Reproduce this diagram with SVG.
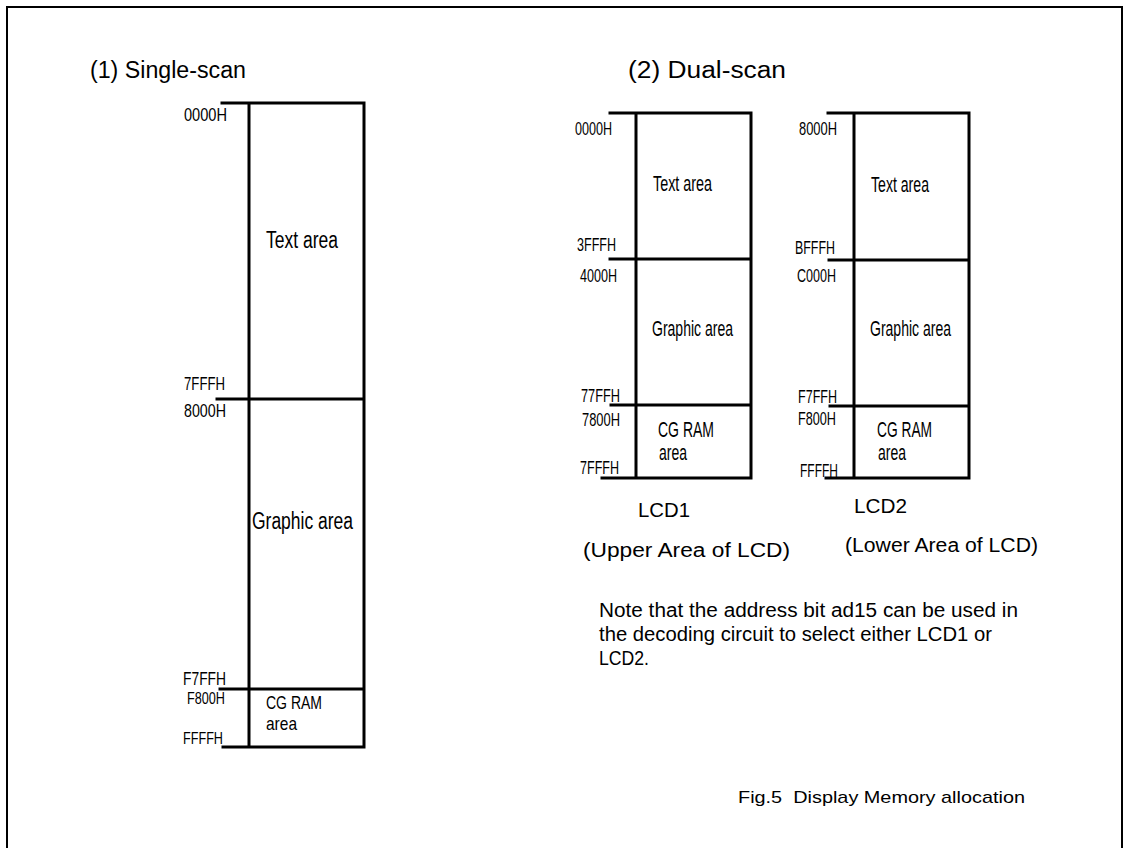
<svg xmlns="http://www.w3.org/2000/svg" width="1125" height="848" viewBox="0 0 1125 848">
<style>
.ln{stroke:#000;stroke-width:3;fill:none;stroke-linecap:square}
.fr{stroke:#000;stroke-width:2;fill:none}
text{font-family:"Liberation Sans",Arial,sans-serif;fill:#000}
.lb{font-size:19px}
.ar{font-size:23px}
.ti{font-size:23px}
.nt{font-size:20px}
</style>
<rect width="1125" height="848" fill="#fff"/>
<rect class="fr" x="7" y="7" width="1115" height="860"/>
<g id="titles">
<text class="ti" x="90" y="78" textLength="156" lengthAdjust="spacingAndGlyphs">(1) Single-scan</text>
<text class="ti" x="628" y="78" textLength="158" lengthAdjust="spacingAndGlyphs">(2) Dual-scan</text>
</g>
<g id="single">
<path class="ln" d="M222 103H364V747M249 103V747M217 399H364M220 689H364M223 747H364"/>
<text class="lb" x="184" y="121" textLength="43" lengthAdjust="spacingAndGlyphs">0000H</text>
<text class="ar" x="266" y="248" textLength="72" lengthAdjust="spacingAndGlyphs">Text area</text>
<text class="lb" x="184" y="390" textLength="41" lengthAdjust="spacingAndGlyphs">7FFFH</text>
<text class="lb" x="184" y="417" textLength="42" lengthAdjust="spacingAndGlyphs">8000H</text>
<text class="ar" x="252" y="529" textLength="101" lengthAdjust="spacingAndGlyphs">Graphic area</text>
<text class="lb" x="183" y="685" textLength="43" lengthAdjust="spacingAndGlyphs">F7FFH</text>
<text class="lb" x="187" y="704" textLength="38" lengthAdjust="spacingAndGlyphs" style="font-size:16px">F800H</text>
<text class="lb" x="266" y="709" textLength="56" lengthAdjust="spacingAndGlyphs" style="font-size:19px">CG RAM</text>
<text class="lb" x="266" y="730" textLength="31" lengthAdjust="spacingAndGlyphs" style="font-size:19px">area</text>
<text class="lb" x="183" y="744" textLength="40" lengthAdjust="spacingAndGlyphs" style="font-size:17px">FFFFH</text>
</g>
<g id="lcd1">
<path class="ln" d="M610 113H751V478M636 113V478M610 259H751M611 405H751M602 478H751"/>
<text class="lb" x="575" y="135" textLength="37" lengthAdjust="spacingAndGlyphs">0000H</text>
<text class="ar" x="653" y="191" textLength="59" lengthAdjust="spacingAndGlyphs" style="font-size:22px">Text area</text>
<text class="lb" x="577" y="251" textLength="39" lengthAdjust="spacingAndGlyphs">3FFFH</text>
<text class="lb" x="580" y="282" textLength="37" lengthAdjust="spacingAndGlyphs">4000H</text>
<text class="ar" x="652" y="336" textLength="81" lengthAdjust="spacingAndGlyphs" style="font-size:22px">Graphic area</text>
<text class="lb" x="581" y="402" textLength="39" lengthAdjust="spacingAndGlyphs">77FFH</text>
<text class="lb" x="582" y="426" textLength="38" lengthAdjust="spacingAndGlyphs">7800H</text>
<text class="ar" x="658" y="437" textLength="56" lengthAdjust="spacingAndGlyphs" style="font-size:22px">CG RAM</text>
<text class="ar" x="659" y="460" textLength="28" lengthAdjust="spacingAndGlyphs" style="font-size:22px">area</text>
<text class="lb" x="580" y="474" textLength="39" lengthAdjust="spacingAndGlyphs">7FFFH</text>
<text class="nt" x="638" y="517" textLength="52" lengthAdjust="spacingAndGlyphs">LCD1</text>
<text class="nt" x="583" y="557" textLength="207" lengthAdjust="spacingAndGlyphs">(Upper Area of LCD)</text>
</g>
<g id="lcd2">
<path class="ln" d="M828 113H969V478M854 113V478M829 260H969M830 406H969M826 478H969"/>
<text class="lb" x="799" y="135" textLength="38" lengthAdjust="spacingAndGlyphs">8000H</text>
<text class="ar" x="871" y="192" textLength="58" lengthAdjust="spacingAndGlyphs" style="font-size:22px">Text area</text>
<text class="lb" x="795" y="254" textLength="40" lengthAdjust="spacingAndGlyphs">BFFFH</text>
<text class="lb" x="797" y="282" textLength="39" lengthAdjust="spacingAndGlyphs">C000H</text>
<text class="ar" x="870" y="336" textLength="81" lengthAdjust="spacingAndGlyphs" style="font-size:22px">Graphic area</text>
<text class="lb" x="798" y="403" textLength="39" lengthAdjust="spacingAndGlyphs">F7FFH</text>
<text class="lb" x="798" y="425" textLength="38" lengthAdjust="spacingAndGlyphs">F800H</text>
<text class="ar" x="877" y="437" textLength="55" lengthAdjust="spacingAndGlyphs" style="font-size:22px">CG RAM</text>
<text class="ar" x="878" y="460" textLength="28" lengthAdjust="spacingAndGlyphs" style="font-size:22px">area</text>
<text class="lb" x="800" y="477" textLength="38" lengthAdjust="spacingAndGlyphs">FFFFH</text>
<text class="nt" x="854" y="513" textLength="53" lengthAdjust="spacingAndGlyphs">LCD2</text>
<text class="nt" x="845" y="552" textLength="193" lengthAdjust="spacingAndGlyphs">(Lower Area of LCD)</text>
</g>
<g id="note">
<text class="nt" x="599" y="617" textLength="419" lengthAdjust="spacingAndGlyphs">Note that the address bit ad15 can be used in</text>
<text class="nt" x="599" y="641" textLength="393" lengthAdjust="spacingAndGlyphs">the decoding circuit to select either LCD1 or</text>
<text class="nt" x="599" y="665" textLength="50" lengthAdjust="spacingAndGlyphs">LCD2.</text>
</g>
<g id="caption">
<text x="738" y="803" style="font-size:17px" xml:space="preserve" textLength="287" lengthAdjust="spacingAndGlyphs">Fig.5  Display Memory allocation</text>
</g>
</svg>
